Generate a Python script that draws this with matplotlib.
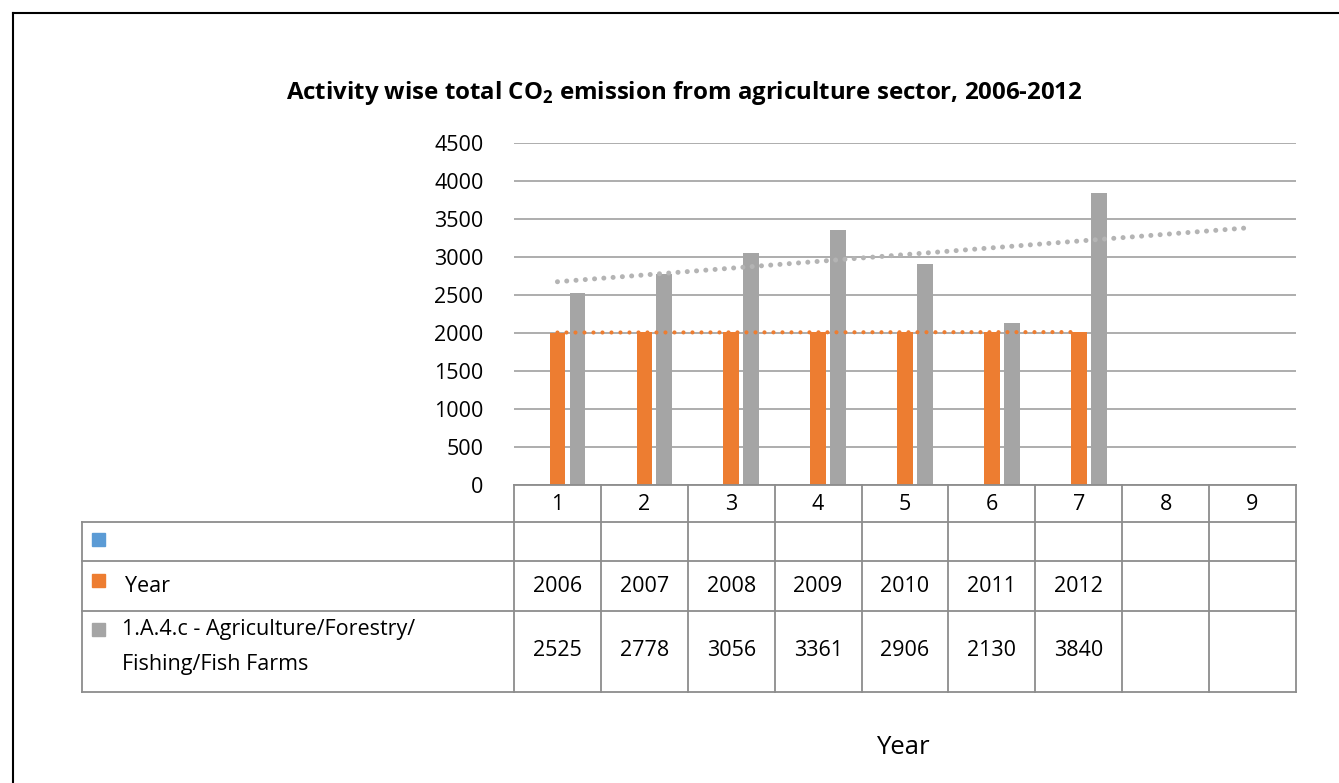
import numpy as np
import matplotlib
matplotlib.use("Agg")
from matplotlib import pyplot as plt
from matplotlib.patches import Rectangle

# data
categories = [1, 2, 3, 4, 5, 6, 7, 8, 9]
blank_series = [None] * 7
year_series = [2006, 2007, 2008, 2009, 2010, 2011, 2012]
agri_series = [2525, 2778, 3056, 3361, 2906, 2130, 3840]
series_labels = ["", "Year", "1.A.4.c - Agriculture/Forestry/\nFishing/Fish Farms"]
y_ticks = [0, 500, 1000, 1500, 2000, 2500, 3000, 3500, 4000, 4500]

blue = "#5b9bd5"
orange = "#ed7d31"
grey = "#a5a5a5"
line_col = "#8c8c8c"

plt.rcParams["font.family"] = ["Open Sans", "DejaVu Sans"]
plt.rcParams["mathtext.fontset"] = "custom"
plt.rcParams["mathtext.rm"] = "Open Sans"
plt.rcParams["mathtext.bf"] = "Open Sans:bold"

W, H = 1339, 783
fig = plt.figure(figsize=(W / 100, H / 100), dpi=100)

# pixel geometry
px_l, px_r = 514, 1296
px_top, px_bot = 143, 485
tab_l = 82
row_y = [485, 522, 561, 611, 692]
fs = 15.5


def fig_rect(x0, y0, x1, y1):
    return [x0 / W, 1 - y1 / H, (x1 - x0) / W, (y1 - y0) / H]


# outer frame
fig.add_artist(plt.Line2D([13 / W, 13 / W], [0, 1 - 13 / H], color="black", lw=1.5))
fig.add_artist(plt.Line2D([13 / W, 1], [1 - 13 / H, 1 - 13 / H], color="black", lw=1.5))

ax = fig.add_axes(fig_rect(px_l, px_top, px_r, px_bot))
ax.set_xlim(0.5, 9.5)
ax.set_ylim(0, 4500)
for s in ax.spines.values():
    s.set_visible(False)
ax.set_yticks(y_ticks)
ax.set_yticklabels([str(t) for t in y_ticks], fontsize=fs)
ax.tick_params(axis="y", length=0, pad=22)
ax.set_xticks([])
ax.yaxis.grid(True, color="#a0a0a0", lw=1.2)
ax.set_axisbelow(True)

x7 = np.arange(1, 8)
bw = 0.18
ax.bar(x7 - 0.23, [0 if v is None else v for v in blank_series], bw, color=blue)
ax.bar(x7, year_series, bw, color=orange, zorder=2)
ax.bar(x7 + 0.23, agri_series, bw, color=grey, zorder=2)

# linear trendlines
k, b = np.polyfit(x7, agri_series, 1)
xt = np.array([1, 9])
ax.plot(xt, k * xt + b, color="#b4b4b4", lw=3.6, ls=(0, (0.01, 1.85)),
        dash_capstyle="round", zorder=3)
k2, b2 = np.polyfit(x7, year_series, 1)
xt2 = np.array([1, 7])
ax.plot(xt2, k2 * xt2 + b2, color=orange, lw=3.0, ls=(0, (0.01, 2.15)),
        dash_capstyle="round", zorder=3)

# data table
tax = fig.add_axes(fig_rect(tab_l, row_y[0], px_r, row_y[-1]))
unit = (px_r - px_l) / 9
tx_l = 0.5 - (px_l - tab_l) / unit
tax.set_xlim(tx_l, 9.5)
tax.set_ylim(row_y[-1], row_y[0])
tax.axis("off")

lk = dict(color=line_col, lw=1.3, clip_on=False)
tax.plot([0.5, 9.5], [row_y[0], row_y[0]], **lk)
for y in row_y[1:]:
    tax.plot([tx_l, 9.5], [y, y], **lk)
tax.plot([tx_l, tx_l], [row_y[1], row_y[-1]], **lk)
for i in range(10):
    tax.plot([0.5 + i, 0.5 + i], [row_y[0], row_y[-1]], **lk)

for c in categories:
    tax.text(c, (row_y[0] + row_y[1]) / 2 + 1, str(c), ha="center", va="center", fontsize=fs)

key_px = 13 / unit
key_x = tx_l + 10 / unit
key_tops = [533, 574, 623]
for kt, col in zip(key_tops, [blue, orange, grey]):
    tax.add_patch(Rectangle((key_x, kt + 13), key_px, -13, color=col, clip_on=False))

tax.text(tx_l + 43 / unit, 587, series_labels[1], ha="left", va="center", fontsize=fs)
tax.text(tx_l + 40 / unit, 647, series_labels[2], ha="left", va="center", fontsize=fs,
         linespacing=1.85)

for c, v in zip(x7, year_series):
    tax.text(c, 587, str(v), ha="center", va="center", fontsize=fs)
for c, v in zip(x7, agri_series):
    tax.text(c, 650, str(v), ha="center", va="center", fontsize=fs)

fig.text(903 / W, 1 - 747 / H, "Year", ha="center", va="center", fontsize=18.5)
fig.text(684 / W, 1 - 93 / H,
         r"Activity wise total CO$_\mathbf{2}$ emission from agriculture sector, 2006-2012",
         ha="center", va="center", fontsize=17.3, fontweight="bold")

fig.savefig("out.png", dpi=100)
